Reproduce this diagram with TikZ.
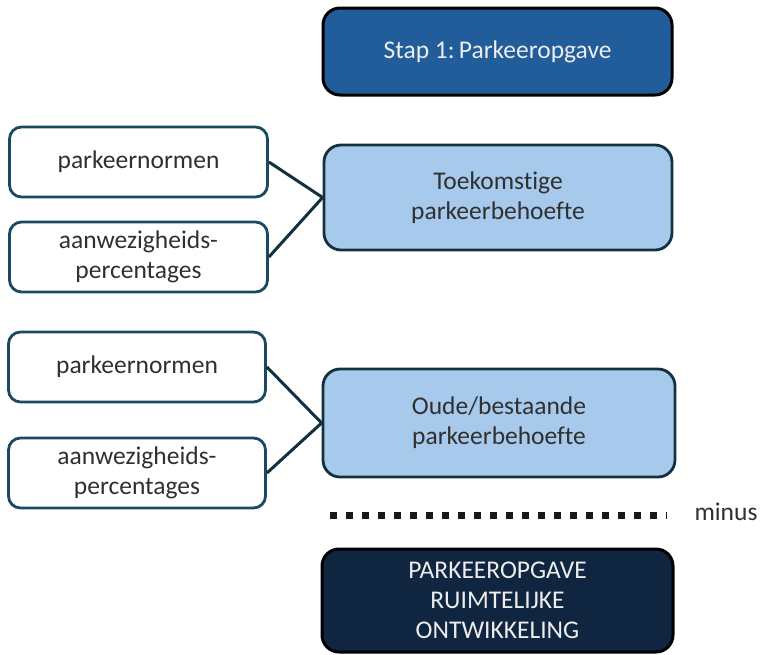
\documentclass[tikz,border=0pt]{standalone}
\usepackage{fontspec}
\setmainfont[Ligatures=NoCommon]{Carlito}
\definecolor{stapblue}{HTML}{215D9A}
\definecolor{lightblue}{HTML}{A7C9EB}
\definecolor{navy}{HTML}{10253F}
\definecolor{tealline}{HTML}{1B4960}
\definecolor{darkline}{HTML}{14303F}
\definecolor{txtgray}{HTML}{303030}
\definecolor{txtwhite}{HTML}{EDEDED}
\tikzset{
  base/.style={rectangle, align=center, font=\fontsize{25.5}{30}\selectfont, inner sep=0pt},
  darkbox/.style={base, draw=black, line width=3pt, rounded corners=17pt, text=txtwhite},
  lightbox/.style={base, draw=darkline, line width=2.8pt, rounded corners=17pt, fill=lightblue, text=txtgray},
  leftbox/.style={base, draw=tealline, line width=2.8pt, rounded corners=12pt, fill=white, text=txtgray},
  conn/.style={draw=darkline, line width=3pt},
}
\begin{document}
\begin{tikzpicture}[x=1pt,y=-1pt]
\useasboundingbox (0,0) rectangle (760,654);
\node[darkbox, fill=stapblue, minimum width=349pt, minimum height=87pt] (stap) at (497.5,51.5) {Stap 1:\,Parkeeropgave};
\node[lightbox, minimum width=348pt, minimum height=105pt] (toek) at (498,197.5) {Toekomstige\\parkeerbehoefte};
\node[leftbox, minimum width=258pt, minimum height=70pt] (pn1) at (138.5,162) {parkeernormen};
\node[leftbox, minimum width=258pt, minimum height=70pt] (am1) at (138.5,257) {aanwezigheids-\\percentages};
\node[lightbox, minimum width=352pt, minimum height=108pt] (oude) at (499,423) {Oude/bestaande\\parkeerbehoefte};
\node[leftbox, minimum width=257pt, minimum height=70pt] (pn2) at (137,367) {parkeernormen};
\node[leftbox, minimum width=257pt, minimum height=70pt] (am2) at (137,473) {aanwezigheids-\\percentages};
\node[darkbox, fill=navy, minimum width=351pt, minimum height=103pt] (res) at (497.5,600.5) {PARKEEROPGAVE\\RUIMTELIJKE\\ONTWIKKELING};
\draw[conn] (pn1.east) -- (toek.west);
\draw[conn] (am1.east) -- (toek.west);
\draw[conn] (pn2.east) -- (oude.west);
\draw[conn] (am2.east) -- (oude.west);
\coordinate (dl) at (330,515);
\coordinate (dr) at (667,515);
\draw[line width=7pt, dash pattern=on 7pt off 9pt, black!90] (dl) -- (dr);
\node[base, text=txtgray] (minus) at (726,512) {minus};
\end{tikzpicture}
\end{document}
